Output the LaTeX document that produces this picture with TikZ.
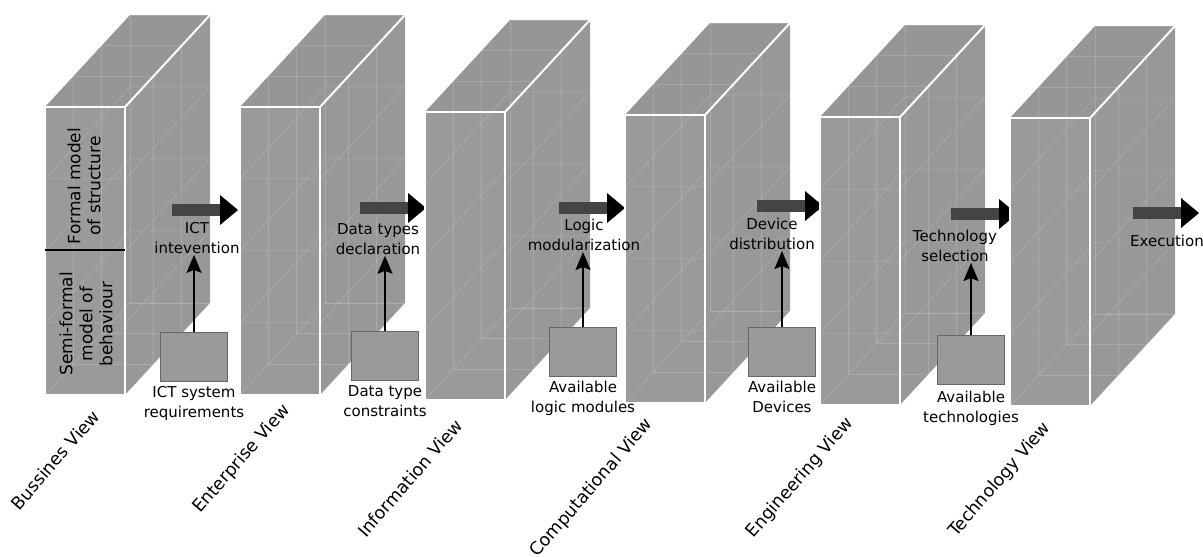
\documentclass[tikz,border=0pt]{standalone}
\usepackage{fontspec}
\setmainfont{DejaVu Sans}
\usepackage{tikz}
\usetikzlibrary{arrows.meta, positioning}
\definecolor{facegray}{HTML}{9A9A9A}
\definecolor{topgray}{HTML}{969696}
\definecolor{sidegray}{HTML}{989898}
\definecolor{boxedge}{HTML}{666666}
\definecolor{bargray}{HTML}{444444}
\tikzstyle{arrow} = [line width=2pt,-{Stealth[length=18pt,width=15pt,inset=3pt]}]
\tikzstyle{reqbox} = [rectangle, draw=boxedge, fill=facegray, line width=1.5pt, minimum width=67pt, minimum height=49pt, inner sep=0pt]
\tikzstyle{caption} = [align=center, font=\fontsize{15}{20}\selectfont, inner sep=1pt]
\tikzstyle{viewlabel} = [rotate=49, font=\fontsize{17.5}{20}\selectfont, inner sep=0pt]
\tikzstyle{sidetext} = [rotate=90, align=center, font=\fontsize{17}{20}\selectfont]
\tikzstyle{gridline} = [white, opacity=.16, line width=.8pt]
\tikzstyle{edge} = [white, line width=2pt]
% one see-through block: #1 = left x, #2 = top y of the front face
\newcommand\viewblock[2]{%
  \begin{scope}[shift={(#1,#2)}]
    \fill[topgray] (0,0) -- (85,-92) -- (165,-92) -- (80,0) -- cycle;
    \fill[sidegray] (80,0) -- (165,-92) -- (165,196) -- (80,288) -- cycle;
    \fill[facegray] (0,0) rectangle (80,288);
    \foreach \t in {0.333,0.667,1}
      \draw[gridline] (85*\t,-92*\t) rectangle ++(80,288);
    \foreach \s in {72,144,216,288}
      \draw[gridline] (0,\s) -- (85,\s-92) -- (165,\s-92) -- (80,\s) -- cycle;
    \draw[edge] (0,0) rectangle (80,288);
    \draw[edge] (80,0) -- (165,-92);
  \end{scope}}
% thick step arrow: #1 = start x, #2 = y
\newcommand\stagearrow[2]{%
  \fill[bargray] (#1,#2-6) rectangle ++(48,12);
  \fill[black] (#1+48,#2-15) -- (#1+66,#2) -- (#1+48,#2+15) -- cycle;}

\begin{document}
\begin{tikzpicture}[x=1pt,y=-1pt]
\fill[white] (0,0) rectangle (1203,557);
\useasboundingbox (0,0) rectangle (1203,557);
%----------------------------------------------------------------------------
% Blocks and step arrows
\viewblock{45}{107}
\stagearrow{172}{210}
\viewblock{240}{107}
\stagearrow{360}{208}
\viewblock{425}{112}
\stagearrow{559}{208}
\viewblock{625}{115}
\stagearrow{757}{206}
\viewblock{820}{117}
\stagearrow{951}{214}
\viewblock{1010}{118}
\stagearrow{1133}{213}

%----------------------------------------------------------------------------
% Text on the first block
\node (formalModel) [sidetext] at (84,186) {Formal model\\of structure};
\node (semiFormal) [sidetext] at (86,324) {Semi-formal\\model of\\behaviour};
\draw[line width=1.5pt] (45,250) -- (125,250);

%----------------------------------------------------------------------------
% Step captions
\node (capICT) [caption] at (197,238) {ICT\\intevention};
\node (capData) [caption] at (378,239) {Data types\\declaration};
\node (capLogic) [caption] at (584,235) {Logic\hspace{32pt}\\modularization};
\node (capDevice) [caption] at (772,234) {Device\\distribution};
\node (capTech) [caption] at (955,246) {Technology\\selection};
\node (capExec) [caption] at (1167,241) {Execution};

%----------------------------------------------------------------------------
% Inputs
\node (reqICT) [reqbox] at (194,357) {};
\node (reqData) [reqbox] at (385,356) {};
\node (reqLogic) [reqbox] at (583,352) {};
\node (reqDevice) [reqbox] at (782,352) {};
\node (reqTech) [reqbox] at (971,360) {};

\node (inICT) [caption, below=3pt of reqICT] {ICT system\\requirements};
\node (inData) [caption, below=3pt of reqData] {Data type\\constraints};
\node (inLogic) [caption, below=3pt of reqLogic] {Available\\logic modules};
\node (inDevice) [caption, below=3pt of reqDevice] {Available\\Devices};
\node (inTech) [caption, below=5pt of reqTech] {Available\\technologies};

\draw [arrow] (reqICT.north) -- (reqICT.north |- capICT.south);
\draw [arrow] (reqData.north) -- (reqData.north |- capData.south);
\draw [arrow] (reqLogic.north) -- (reqLogic.north |- capLogic.south);
\draw [arrow] (reqDevice.north) -- (reqDevice.north |- capDevice.south);
\draw [arrow] (reqTech.north) -- (reqTech.north |- capTech.south);

%----------------------------------------------------------------------------
% View names
\node (vBusiness) [viewlabel] at (55,460) {Bussines View};
\node (vEnterprise) [viewlabel] at (242,459) {Enterprise View};
\node (vInformation) [viewlabel] at (410,478) {Information View};
\node (vComputational) [viewlabel] at (592,488) {Computational View};
\node (vEngineering) [viewlabel] at (800,478) {Engineering View};
\node (vTechnology) [viewlabel] at (1000,480) {Technology View};

\end{tikzpicture}
\end{document}
